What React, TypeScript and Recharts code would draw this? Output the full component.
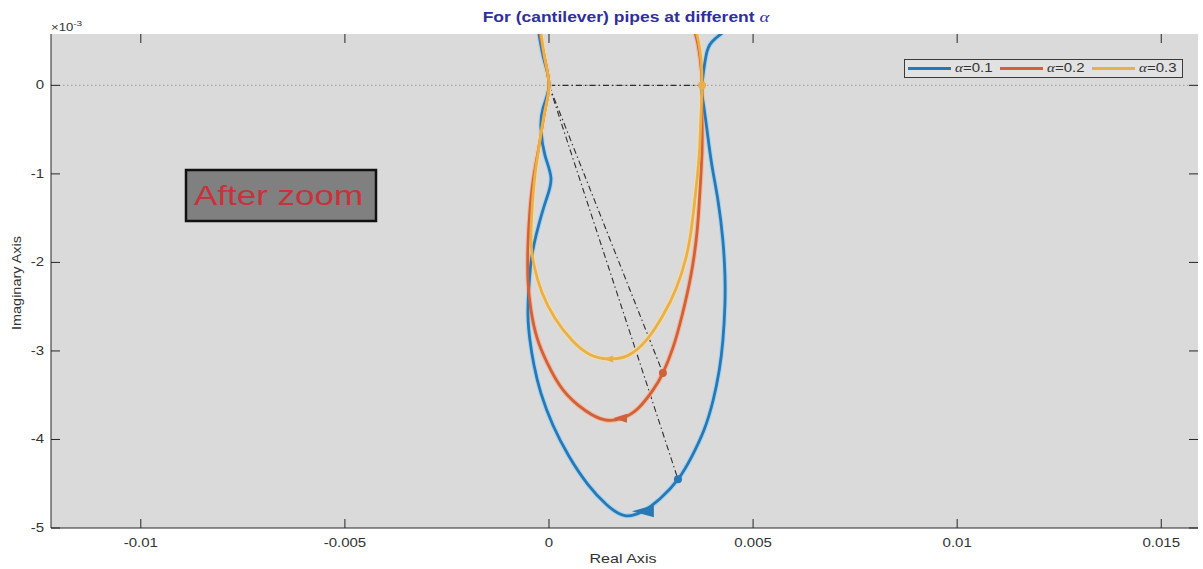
import {
  ComposedChart,
  Line,
  Scatter,
  XAxis,
  YAxis,
  CartesianGrid,
  ReferenceLine,
  Legend,
} from "recharts";

const W = 1203;
const H = 569;
const PLOT_TOP = 34;
const PLOT_BOTTOM = 528;
const PLOT_LEFT = 51;
const PLOT_RIGHT = 1198;
const X_DOMAIN: [number, number] = [-0.0122, 0.0159];
const Y_DOMAIN: [number, number] = [-5, 0.58];

const xTicks = [-0.01, -0.005, 0, 0.005, 0.01, 0.015];
const yTicks = [-5, -4, -3, -2, -1, 0];

// root loci: real part, imaginary part (x 10^-3)
const blueRe = [-0.000343, -0.000245, -0.000123, 0, -0.000147, -0.000196, -0.000098, 0.000049, -0.000074, -0.00027, -0.000417, -0.00049, -0.000515, -0.000466, -0.000368, -0.000196, 0.000098, 0.00049, 0.000956, 0.00142, 0.00186, 0.0023, 0.00272, 0.00316, 0.0035, 0.0038, 0.00402, 0.00417, 0.00426, 0.00431, 0.00431, 0.00426, 0.00414, 0.00399, 0.00387, 0.00377, 0.00375, 0.00385, 0.00399, 0.00424, 0.00456];
const blueIm = [0.81, 0.58, 0.29, 0, -0.26, -0.5, -0.79, -1.05, -1.3, -1.61, -1.92, -2.26, -2.6, -2.88, -3.16, -3.48, -3.84, -4.19, -4.51, -4.74, -4.86, -4.81, -4.67, -4.45, -4.19, -3.89, -3.56, -3.22, -2.88, -2.48, -2.14, -1.75, -1.3, -0.9, -0.5, -0.17, 0, 0.34, 0.49, 0.59, 0.69];

const redRe = [-0.000319, -0.00022, -0.000098, 0, -0.000098, -0.00022, -0.000368, -0.000466, -0.000515, -0.000515, -0.000441, -0.000294, -0.000049, 0.000343, 0.00088, 0.00137, 0.00179, 0.00218, 0.00255, 0.00279, 0.00304, 0.00326, 0.00348, 0.00363, 0.0037, 0.00375, 0.00375, 0.00375, 0.0037, 0.0036, 0.00345];
const redIm = [0.81, 0.58, 0.29, 0, -0.28, -0.62, -1.01, -1.41, -1.81, -2.2, -2.54, -2.85, -3.13, -3.44, -3.67, -3.78, -3.76, -3.65, -3.44, -3.25, -2.96, -2.6, -2.14, -1.64, -1.18, -0.73, -0.34, 0, 0.31, 0.56, 0.74];

const yellowRe = [-0.000294, -0.000196, -0.000098, 0, -0.000098, -0.00022, -0.000343, -0.000417, -0.000441, -0.000368, -0.000172, 0.000147, 0.000564, 0.001, 0.00145, 0.00194, 0.0024, 0.00279, 0.00311, 0.00336, 0.0035, 0.0036, 0.00368, 0.00372, 0.00375, 0.00372, 0.00363, 0.0035];
const yellowIm = [0.81, 0.58, 0.29, 0, -0.28, -0.62, -1.01, -1.41, -1.75, -2.03, -2.34, -2.63, -2.88, -3.04, -3.09, -3.05, -2.87, -2.6, -2.3, -1.94, -1.58, -1.18, -0.79, -0.39, 0, 0.31, 0.56, 0.74];

// marked points (blue, red, yellow) and direction arrows
const dotRe = [0.00316, 0.00279, 0.00375];
const dotIm = [-4.45, -3.25, 0];
const arrowRe = [0.0023, 0.00174, 0.00145];
const arrowIm = [-4.81, -3.76, -3.09];

const alphas = ["0.1", "0.2", "0.3"];
const colors = ["#2878b4", "#d0623a", "#e8b04a"];
const halos = ["#a6d4f2", "#f3b8a0", "#f5dcaa"];
const arrowSize = [
  { len: 22, half: 6 },
  { len: 14, half: 4.5 },
  { len: 10, half: 3.5 },
];

const toPoints = (re: number[], im: number[]) => re.map((x, i) => ({ x, y: im[i] }));

const loci = [toPoints(blueRe, blueIm), toPoints(redRe, redIm), toPoints(yellowRe, yellowIm)];

const FONT = "'Liberation Sans', Arial, Helvetica, sans-serif";
const SERIF = "'Liberation Serif', 'Times New Roman', serif";
const STRETCH = 1.25;

function XTick(props: any) {
  const { x, payload } = props;
  return (
    <g>
      <line x1={x} x2={x} y1={PLOT_BOTTOM} y2={PLOT_BOTTOM - 9} stroke="#262626" />
      <line x1={x} x2={x} y1={PLOT_TOP} y2={PLOT_TOP + 9} stroke="#262626" />
      <text
        transform={`translate(${x},547) scale(${STRETCH},1)`}
        textAnchor="middle"
        fontFamily={FONT}
        fontSize={12}
        fill="#333"
      >
        {String(payload.value)}
      </text>
    </g>
  );
}

function YTick(props: any) {
  const { y, payload } = props;
  return (
    <g>
      <line x1={PLOT_LEFT} x2={PLOT_LEFT + 9} y1={y} y2={y} stroke="#262626" />
      <line x1={PLOT_RIGHT} x2={PLOT_RIGHT - 9} y1={y} y2={y} stroke="#262626" />
      <text
        transform={`translate(44,${y + 4}) scale(${STRETCH},1)`}
        textAnchor="end"
        fontFamily={FONT}
        fontSize={12}
        fill="#333"
      >
        {String(payload.value)}
      </text>
    </g>
  );
}

function LegendBox() {
  return (
    <div
      style={{
        position: "relative",
        width: 279,
        height: 19,
        boxSizing: "border-box",
        border: "1px solid #3a3a3a",
        background: "#e2e2e2",
      }}
    >
      {alphas.map((a, i) => (
        <div
          key={a}
          style={{ position: "absolute", left: 3 + i * 92, top: 0, height: 17, display: "flex", alignItems: "center" }}
        >
          <div style={{ width: 43, height: 3, background: colors[i] }} />
          <span
            style={{
              marginLeft: 4,
              fontFamily: FONT,
              fontSize: 12,
              color: "#333",
              display: "inline-block",
              transform: `scaleX(${STRETCH})`,
              transformOrigin: "left center",
              whiteSpace: "nowrap",
              lineHeight: "17px",
            }}
          >
            <i style={{ fontFamily: SERIF }}>α</i>={a}
          </span>
        </div>
      ))}
    </div>
  );
}

function Arrow(props: any, i: number) {
  const { cx, cy } = props;
  const { len, half } = arrowSize[i];
  const pts = `${cx - len / 2},${cy} ${cx + len / 2},${cy - half} ${cx + len / 2},${cy + half}`;
  return <polygon points={pts} fill={colors[i]} />;
}

export default function App() {
  return (
    <div style={{ position: "absolute", left: 0, top: 0, width: W, height: H, background: "#fff" }}>
      <ComposedChart width={W} height={H} margin={{ top: PLOT_TOP, right: W - PLOT_RIGHT, bottom: 0, left: 0 }}>
        <CartesianGrid fill="#dadada" horizontal={false} vertical={false} />
        <XAxis
          type="number"
          dataKey="x"
          domain={X_DOMAIN}
          allowDataOverflow
          ticks={xTicks}
          interval={0}
          tick={(p: any) => <XTick {...p} />}
          tickLine={false}
          axisLine={{ stroke: "#262626" }}
          height={H - PLOT_BOTTOM}
        />
        <XAxis
          xAxisId="top"
          orientation="top"
          type="number"
          domain={X_DOMAIN}
          allowDataOverflow
          tick={false}
          tickLine={false}
          axisLine={{ stroke: "#262626" }}
          height={0}
        />
        <YAxis
          type="number"
          dataKey="y"
          domain={Y_DOMAIN}
          allowDataOverflow
          ticks={yTicks}
          interval={0}
          tick={(p: any) => <YTick {...p} />}
          tickLine={false}
          axisLine={{ stroke: "#262626" }}
          width={PLOT_LEFT}
        />
        <YAxis
          yAxisId="right"
          orientation="right"
          type="number"
          domain={Y_DOMAIN}
          allowDataOverflow
          tick={false}
          tickLine={false}
          axisLine={{ stroke: "#262626" }}
          width={0}
        />
        <ReferenceLine y={0} stroke="#9c9c9c" strokeDasharray="1.5 2.5" />
        {dotRe.map((x, i) => (
          <Line
            key={`guide-${i}`}
            data={[{ x: 0, y: 0 }, { x, y: dotIm[i] }]}
            dataKey="y"
            type="linear"
            stroke="#2e2e2e"
            strokeWidth={1.1}
            strokeDasharray="6 3 1.5 3"
            dot={false}
            activeDot={false}
            legendType="none"
            isAnimationActive={false}
          />
        ))}
        {loci.map((pts, i) => (
          <Line
            key={`halo-${i}`}
            data={pts}
            dataKey="y"
            type="natural"
            stroke={halos[i]}
            strokeWidth={5}
            dot={false}
            activeDot={false}
            legendType="none"
            isAnimationActive={false}
          />
        ))}
        {loci.map((pts, i) => (
          <Line
            key={`locus-${i}`}
            data={pts}
            dataKey="y"
            type="natural"
            stroke={colors[i]}
            strokeWidth={2.8}
            dot={false}
            activeDot={false}
            name={`α=${alphas[i]}`}
            isAnimationActive={false}
          />
        ))}
        {dotRe.map((x, i) => (
          <Scatter
            key={`dot-${i}`}
            data={[{ x, y: dotIm[i] }]}
            fill={colors[i]}
            shape={(p: any) => <circle cx={p.cx} cy={p.cy} r={4} fill={colors[i]} />}
            legendType="none"
            isAnimationActive={false}
          />
        ))}
        {arrowRe.map((x, i) => (
          <Scatter
            key={`arrow-${i}`}
            data={[{ x, y: arrowIm[i] }]}
            fill={colors[i]}
            shape={(p: any) => Arrow(p, i)}
            legendType="none"
            isAnimationActive={false}
          />
        ))}
        <Legend
          layout="horizontal"
          verticalAlign="middle"
          align="center"
          content={() => <LegendBox />}
          wrapperStyle={{ left: 904, top: 59, width: 279, height: 19 }}
        />
      </ComposedChart>
      <svg
        width={W}
        height={H}
        style={{ position: "absolute", left: 0, top: 0, pointerEvents: "none" }}
      >
        <text
          transform={`translate(626,22) scale(${STRETCH},1)`}
          textAnchor="middle"
          fontFamily={FONT}
          fontWeight="bold"
          fontSize={14}
          fill="#2f2f9c"
        >
          For (cantilever) pipes at different{" "}
          <tspan fontFamily={SERIF} fontStyle="italic" fontWeight="normal" fontSize={15}>
            α
          </tspan>
        </text>
        <text transform={`translate(51,30.5) scale(${STRETCH},1)`} fontFamily={FONT} fontSize={10.5} fill="#333">
          ×10
          <tspan dy={-5} fontSize={8}>
            -3
          </tspan>
        </text>
        <rect x={186} y={170} width={190} height={51} fill="#808080" stroke="#111" strokeWidth={2.5} />
        <text
          transform={`translate(194,205) scale(${STRETCH},1)`}
          fontFamily={FONT}
          fontSize={28}
          fill="#c8323a"
        >
          After zoom
        </text>
        <text
          x={623}
          y={563}
          textAnchor="middle"
          fontFamily={FONT}
          fontSize={13}
          fill="#333"
          textLength={67}
          lengthAdjust="spacingAndGlyphs"
        >
          Real Axis
        </text>
        <text
          transform="translate(21,283) rotate(-90)"
          textAnchor="middle"
          fontFamily={FONT}
          fontSize={13}
          fill="#333"
          textLength={94}
          lengthAdjust="spacingAndGlyphs"
        >
          Imaginary Axis
        </text>
      </svg>
    </div>
  );
}
